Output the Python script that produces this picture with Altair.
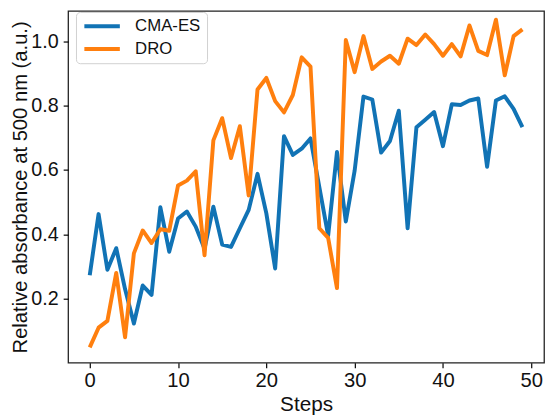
import altair as alt
import pandas as pd

steps = list(range(50))
cma_es = [0.273, 0.463, 0.290, 0.357, 0.230, 0.123, 0.241, 0.212, 0.484, 0.346,
          0.449, 0.471, 0.424, 0.355, 0.486, 0.368, 0.361, 0.419, 0.476, 0.588,
          0.465, 0.294, 0.705, 0.647, 0.666, 0.698, 0.547, 0.396, 0.656, 0.440,
          0.598, 0.828, 0.819, 0.654, 0.690, 0.784, 0.419, 0.733, 0.756, 0.780,
          0.674, 0.804, 0.802, 0.816, 0.822, 0.610, 0.816, 0.829, 0.790, 0.733]
dro = [0.049, 0.110, 0.131, 0.280, 0.080, 0.341, 0.412, 0.373, 0.416, 0.411,
       0.552, 0.567, 0.596, 0.335, 0.692, 0.761, 0.637, 0.736, 0.521, 0.850,
       0.886, 0.814, 0.779, 0.833, 0.950, 0.921, 0.419, 0.389, 0.233, 1.004,
       0.904, 1.016, 0.914, 0.937, 0.955, 0.930, 1.008, 0.988, 1.021, 0.991,
       0.955, 0.991, 0.953, 1.049, 0.970, 0.957, 1.067, 0.894, 1.016, 1.037]
series_names = ["CMA-ES", "DRO"]
series_colors = ["#1173b5", "#ff7f0e"]
x_ticks = [0, 10, 20, 30, 40, 50]
y_ticks = [0.2, 0.4, 0.6, 0.8, 1.0]

df = pd.DataFrame({
    "Steps": steps * 2,
    "value": cma_es + dro,
    "series": [series_names[0]] * len(steps) + [series_names[1]] * len(steps),
})

FONT = "Liberation Sans"

chart = alt.Chart(df).mark_line(strokeWidth=4, strokeJoin="round").encode(
    x=alt.X("Steps:Q",
            scale=alt.Scale(domain=[-2.45, 51.45], nice=False, zero=False),
            axis=alt.Axis(values=x_ticks, title="Steps", grid=False, domain=False,
                          tickSize=5, tickColor="#000", tickWidth=1.2,
                          labelFontSize=20.5, titleFontSize=21, labelPadding=3,
                          titlePadding=3, labelColor="#111", titleColor="#111",
                          labelFont=FONT, titleFont=FONT, titleFontWeight="normal")),
    y=alt.Y("value:Q",
            scale=alt.Scale(domain=[0.001, 1.094], nice=False, zero=False),
            axis=alt.Axis(values=y_ticks, format=".1f",
                          title="Relative absorbance at 500 nm (a.u.)", grid=False,
                          domain=False, tickSize=5, tickColor="#000", tickWidth=1.2,
                          labelFontSize=20, titleFontSize=20.5, labelPadding=5,
                          titlePadding=0, labelColor="#111", titleColor="#111",
                          labelFont=FONT, titleFont=FONT, titleFontWeight="normal")),
    color=alt.Color("series:N",
                    scale=alt.Scale(domain=series_names, range=series_colors),
                    legend=alt.Legend(title=None, orient="none", legendX=8, legendY=1,
                                      symbolType="M-1,0H5", symbolSize=144,
                                      symbolStrokeWidth=4, labelFontSize=17,
                                      labelFont=FONT, labelColor="#111",
                                      labelOffset=37, rowPadding=5,
                                      padding=6, strokeColor="#d0d0d0",
                                      fillColor="white", cornerRadius=4)),
).properties(
    width=483, height=357,
    autosize=alt.AutoSizeParams(type="none"),
    padding={"left": 61, "top": 0, "right": 3, "bottom": 52},
).configure_view(
    stroke="#222", strokeWidth=1.3
)

chart.save("out.html", embed_options={"renderer": "svg", "actions": False})
